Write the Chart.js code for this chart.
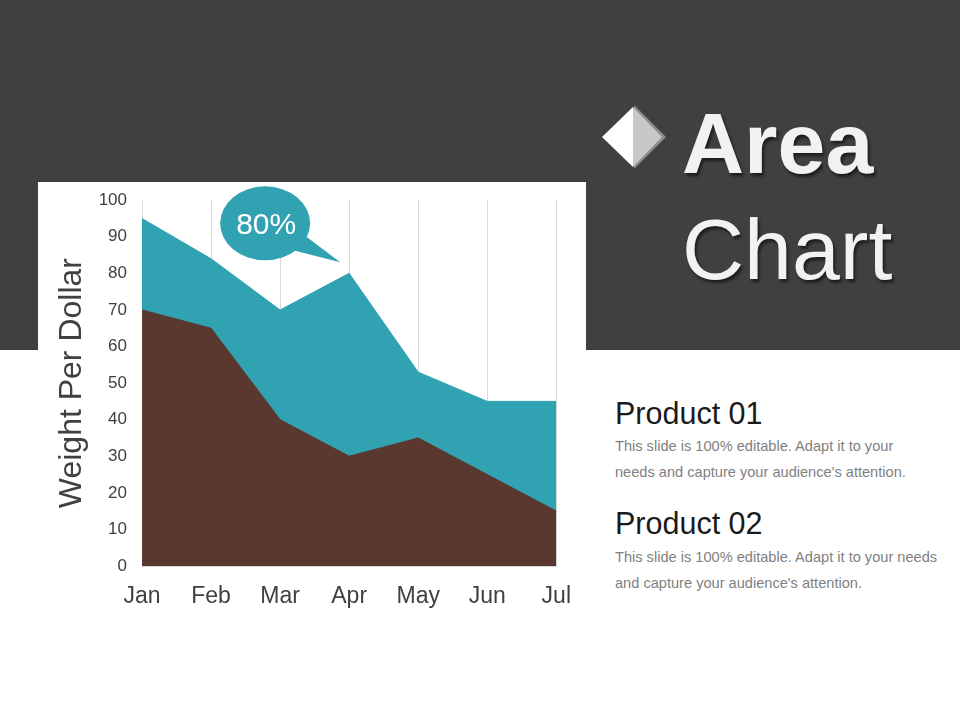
<!DOCTYPE html>
<html>
<head>
<meta charset="utf-8">
<script src="https://cdn.jsdelivr.net/npm/chart.js@4.4.0/dist/chart.umd.min.js"></script>
<style>
  html, body { margin: 0; padding: 0; }
  body { width: 960px; height: 720px; position: relative; overflow: hidden; background: #fff; font-family: 'Liberation Sans', Arial, sans-serif; }
  .banda { position: absolute; left: 0; top: 0; width: 960px; height: 350px; background: #404040; }
  .painel { position: absolute; left: 38px; top: 182px; width: 548px; height: 440px; background: #fff; }
  .grafico { position: absolute; left: 38px; top: 175px; width: 550px; height: 447px; }
  .grafico canvas { display: block; }
  .titulo { position: absolute; left: 682px; color: #f2f2f2; font-size: 86px; line-height: 1; text-shadow: 2px 3px 3px rgba(0,0,0,0.55); white-space: nowrap; }
  .losango { position: absolute; left: 598px; top: 104px; }
  .produto { position: absolute; left: 615px; font-size: 30.5px; line-height: 1; color: #1a1a1a; white-space: nowrap; }
  .texto { position: absolute; left: 615px; font-size: 14.6px; line-height: 26px; color: #7f7f7f; white-space: nowrap; }
</style>
</head>
<body>
<div class="banda"></div>

<svg class="losango" width="72" height="70" viewBox="0 0 72 70">
  <polygon points="36,1 68,33 36,65" fill="#8c8c8c"/>
  <polygon points="35,3 64,33 35,63" fill="#c8c8c8"/>
  <polygon points="35,3 4,33 35,63" fill="#ffffff"/>
</svg>
<div class="titulo" style="top:100px;font-weight:bold;">Area</div>
<div class="titulo" style="top:206px;">Chart</div>

<div class="painel"></div>
<div class="grafico"><canvas id="areaChart" width="550" height="447"></canvas></div>

<div class="produto" style="top:398px;">Product 01</div>
<div class="texto" style="top:433px;">This slide is 100% editable. Adapt it to your<br>needs and capture your audience's attention.</div>
<div class="produto" style="top:508px;">Product 02</div>
<div class="texto" style="top:544px;">This slide is 100% editable. Adapt it to your needs<br>and capture your audience's attention.</div>

<script>
const meses = ['Jan', 'Feb', 'Mar', 'Apr', 'May', 'Jun', 'Jul'];
const produto01 = [70, 65, 40, 30, 35, 25, 15];
const produto02 = [95, 84, 70, 80, 53, 45, 45];
const eixoY = { min: 0, max: 100, passo: 10 };
const destaque = { indice: 3, texto: '80%' };

const corMarrom = '#5a372f';
const corAzul = '#30a2b2';

// balão com o valor em destaque, ancorado no ponto de abril
const baloes = {
    id: 'baloes',
    afterDatasetsDraw(chart) {
        const { ctx, scales } = chart;
        const px = scales.x.getPixelForValue(destaque.indice);
        const py = scales.y.getPixelForValue(produto02[destaque.indice]);
        const cx = px - 84, cy = py - 50;

        ctx.save();
        ctx.fillStyle = corAzul;
        ctx.beginPath();
        ctx.ellipse(cx, cy, 45, 37, 0, 0, Math.PI * 2);
        ctx.fill();
        ctx.beginPath();
        ctx.moveTo(cx + 28, cy + 27);
        ctx.lineTo(px - 9, py - 11);
        ctx.lineTo(cx + 42, cy + 14);
        ctx.closePath();
        ctx.fill();

        ctx.fillStyle = '#ffffff';
        ctx.font = '30px "Liberation Sans", Arial, sans-serif';
        ctx.textAlign = 'center';
        ctx.textBaseline = 'middle';
        ctx.fillText(destaque.texto, cx + 1, cy + 2);
        ctx.restore();
    }
};

const ctx = document.getElementById('areaChart').getContext('2d');
new Chart(ctx, {
    type: 'line',
    data: {
        labels: meses,
        datasets: [{
            label: 'Product 01',
            data: produto01,
            borderColor: corMarrom,
            backgroundColor: corMarrom,
            borderWidth: 1,
            pointRadius: 0,
            fill: 'origin',
            tension: 0
        }, {
            label: 'Product 02',
            data: produto02,
            borderColor: corAzul,
            backgroundColor: corAzul,
            borderWidth: 1,
            pointRadius: 0,
            fill: 'origin',
            tension: 0
        }]
    },
    options: {
        responsive: false,
        animation: false,
        layout: {
            padding: { top: 11, right: 28, left: 0, bottom: 0 }
        },
        plugins: {
            legend: { display: false },
            tooltip: { enabled: false }
        },
        scales: {
            x: {
                offset: false,
                grid: {
                    color: '#d9d9d9',
                    drawTicks: false
                },
                border: { color: '#d9d9d9' },
                ticks: {
                    color: '#404040',
                    padding: 17,
                    maxRotation: 0,
                    font: { family: 'Liberation Sans', size: 23 }
                },
                afterFit: (scale) => { scale.height = 56; }
            },
            y: {
                min: eixoY.min,
                max: eixoY.max,
                grid: { display: false, drawTicks: false },
                border: { display: true, color: '#d9d9d9' },
                ticks: {
                    stepSize: eixoY.passo,
                    color: '#404040',
                    padding: 15,
                    font: { family: 'Liberation Sans', size: 17 }
                },
                title: {
                    display: true,
                    text: 'Weight Per Dollar',
                    color: '#404040',
                    padding: { top: 15, bottom: 0 },
                    font: { family: 'Liberation Sans', size: 32 }
                },
                afterFit: (scale) => { scale.width = 104; }
            }
        }
    },
    plugins: [baloes]
});
</script>
</body>
</html>
